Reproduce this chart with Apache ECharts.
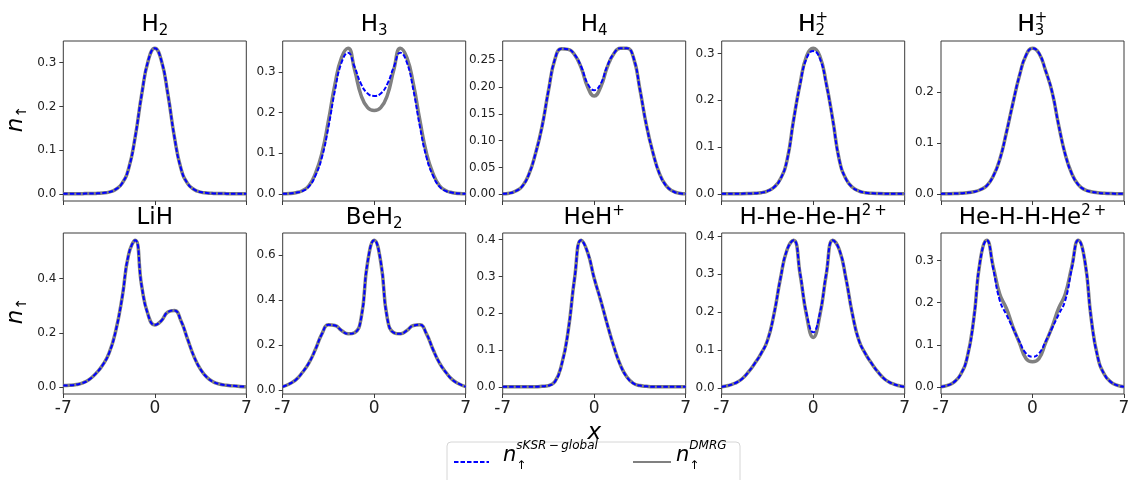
<!DOCTYPE html>
<html>
<head>
<meta charset="utf-8">
<script src="https://cdn.jsdelivr.net/npm/echarts@6/dist/echarts.min.js"></script>
<style>
  html, body { margin: 0; padding: 0; background: #fff; }
  #chart { width: 1129px; height: 480px; }
</style>
</head>
<body>
<div id="chart"></div>
<script>
// shared x grid (read every 0.5 along the axis)
const xs = [-7, -6.5, -6, -5.5, -5, -4.5, -4, -3.5, -3, -2.5, -2, -1.5, -1, -0.5, 0,
  0.5, 1, 1.5, 2, 2.5, 3, 3.5, 4, 4.5, 5, 5.5, 6, 6.5, 7];
const xTickValues = [-7, 0, 7];
const xTickLabels = ['-7', '0', '7'];

// densities, one array per curve
const h2Dmrg = [0.0002, 0.0002, 0.0003, 0.0004, 0.0006, 0.001, 0.002, 0.004, 0.010, 0.024, 0.058, 0.130, 0.228, 0.305, 0.333,
  0.305, 0.228, 0.130, 0.058, 0.024, 0.010, 0.004, 0.002, 0.001, 0.0006, 0.0004, 0.0003, 0.0002, 0.0002];
const h2Sksr = h2Dmrg;

const h3Dmrg = [0.0005, 0.001, 0.003, 0.008, 0.02, 0.05, 0.10, 0.18, 0.27, 0.335, 0.358, 0.305, 0.242, 0.212, 0.205,
  0.212, 0.242, 0.305, 0.358, 0.335, 0.27, 0.18, 0.10, 0.05, 0.02, 0.008, 0.003, 0.001, 0.0005];
const h3Sksr = [0.0005, 0.001, 0.003, 0.007, 0.018, 0.045, 0.09, 0.165, 0.255, 0.323, 0.347, 0.312, 0.27, 0.247, 0.241,
  0.247, 0.27, 0.312, 0.347, 0.323, 0.255, 0.165, 0.09, 0.045, 0.018, 0.007, 0.003, 0.001, 0.0005];

const h4Dmrg = [0.001, 0.002, 0.006, 0.015, 0.037, 0.075, 0.125, 0.193, 0.252, 0.271, 0.27, 0.26, 0.236, 0.2, 0.183,
  0.2, 0.237, 0.262, 0.272, 0.272, 0.255, 0.195, 0.128, 0.077, 0.038, 0.016, 0.006, 0.002, 0.001];
const h4Sksr = [0.001, 0.002, 0.006, 0.015, 0.037, 0.075, 0.125, 0.193, 0.252, 0.271, 0.27, 0.26, 0.238, 0.206, 0.194,
  0.206, 0.239, 0.262, 0.272, 0.272, 0.255, 0.195, 0.128, 0.077, 0.038, 0.016, 0.006, 0.002, 0.001];

const h2pDmrg = [0.0002, 0.0002, 0.0003, 0.0004, 0.0007, 0.0012, 0.0025, 0.006, 0.014, 0.032, 0.072, 0.158, 0.236, 0.295, 0.311,
  0.295, 0.236, 0.158, 0.072, 0.032, 0.014, 0.006, 0.0025, 0.0012, 0.0007, 0.0004, 0.0003, 0.0002, 0.0002];
const h2pSksr = [0.0002, 0.0002, 0.0003, 0.0004, 0.0007, 0.0012, 0.0025, 0.006, 0.014, 0.032, 0.072, 0.157, 0.234, 0.29, 0.305,
  0.29, 0.234, 0.157, 0.072, 0.032, 0.014, 0.006, 0.0025, 0.0012, 0.0007, 0.0004, 0.0003, 0.0002, 0.0002];

const h3pDmrg = [0.0002, 0.0003, 0.0005, 0.001, 0.002, 0.004, 0.008, 0.016, 0.035, 0.068, 0.12, 0.178, 0.232, 0.272, 0.286,
  0.276, 0.242, 0.2, 0.135, 0.078, 0.04, 0.018, 0.008, 0.004, 0.002, 0.001, 0.0005, 0.0003, 0.0002];
const h3pSksr = h3pDmrg;

const lihDmrg = [0.005, 0.006, 0.009, 0.015, 0.028, 0.05, 0.08, 0.125, 0.205, 0.33, 0.49, 0.542, 0.372, 0.265, 0.229,
  0.245, 0.277, 0.283, 0.245, 0.178, 0.112, 0.065, 0.035, 0.018, 0.01, 0.006, 0.004, 0.002, 0.001];
const lihSksr = lihDmrg;

const beh2Dmrg = [0.015, 0.027, 0.045, 0.078, 0.12, 0.18, 0.25, 0.29, 0.287, 0.265, 0.25, 0.255, 0.32, 0.57, 0.666,
  0.57, 0.32, 0.255, 0.25, 0.265, 0.287, 0.29, 0.25, 0.18, 0.12, 0.078, 0.045, 0.027, 0.015];
const beh2Sksr = beh2Dmrg;

const hehpDmrg = [0.001, 0.001, 0.001, 0.001, 0.001, 0.001, 0.002, 0.004, 0.015, 0.06, 0.15, 0.295, 0.398, 0.365, 0.295,
  0.235, 0.17, 0.11, 0.06, 0.027, 0.01, 0.004, 0.002, 0.001, 0.001, 0.001, 0.001, 0.001, 0.001];
const hehpSksr = hehpDmrg;

const hhehehDmrg = [0.003, 0.006, 0.012, 0.022, 0.04, 0.063, 0.09, 0.125, 0.195, 0.29, 0.365, 0.39, 0.3, 0.19, 0.133,
  0.19, 0.3, 0.39, 0.365, 0.29, 0.195, 0.125, 0.09, 0.063, 0.04, 0.022, 0.012, 0.006, 0.003];
const hhehehSksr = [0.003, 0.006, 0.012, 0.022, 0.04, 0.063, 0.09, 0.125, 0.195, 0.29, 0.365, 0.39, 0.302, 0.195, 0.147,
  0.195, 0.302, 0.39, 0.365, 0.29, 0.195, 0.125, 0.09, 0.063, 0.04, 0.022, 0.012, 0.006, 0.003];

const hehhheDmrg = [0.001, 0.004, 0.012, 0.03, 0.07, 0.16, 0.3, 0.348, 0.285, 0.22, 0.187, 0.143, 0.105, 0.068, 0.06,
  0.068, 0.105, 0.143, 0.187, 0.22, 0.285, 0.348, 0.3, 0.16, 0.07, 0.03, 0.012, 0.004, 0.001];
const hehhheSksr = [0.001, 0.004, 0.012, 0.03, 0.07, 0.16, 0.3, 0.348, 0.28, 0.205, 0.172, 0.14, 0.108, 0.08, 0.072,
  0.08, 0.108, 0.14, 0.172, 0.205, 0.28, 0.348, 0.3, 0.16, 0.07, 0.03, 0.012, 0.004, 0.001];

// panel titles: main text, subscript, superscript
const titleMain = ['H', 'H', 'H', 'H', 'H', 'LiH', 'BeH', 'HeH', 'H-He-He-H', 'He-H-H-He'];
const titleSub = ['2', '3', '4', '2', '3', '', '2', '', '', ''];
const titleSup = ['', '', '', '+', '+', '', '', '+', '2\u2009+', '2\u2009+'];
const yTickLabels = [
  ['0.0', '0.1', '0.2', '0.3'],
  ['0.0', '0.1', '0.2', '0.3'],
  ['0.00', '0.05', '0.10', '0.15', '0.20', '0.25'],
  ['0.0', '0.1', '0.2', '0.3'],
  ['0.0', '0.1', '0.2'],
  ['0.0', '0.2', '0.4'],
  ['0.0', '0.2', '0.4', '0.6'],
  ['0.0', '0.1', '0.2', '0.3', '0.4'],
  ['0.0', '0.1', '0.2', '0.3', '0.4'],
  ['0.0', '0.1', '0.2', '0.3']
];
const dmrgCurves = [h2Dmrg, h3Dmrg, h4Dmrg, h2pDmrg, h3pDmrg, lihDmrg, beh2Dmrg, hehpDmrg, hhehehDmrg, hehhheDmrg];
const sksrCurves = [h2Sksr, h3Sksr, h4Sksr, h2pSksr, h3pSksr, lihSksr, beh2Sksr, hehpSksr, hhehehSksr, hehhheSksr];

const FONT = 'DejaVu Sans';
const lefts = [63.3, 282.7, 502.7, 721.7, 941];
const tops = [41, 233];
const heights = [160, 161];
const W = 183;

const titleRich = {
  m: { fontSize: 23, lineHeight: 28, fontFamily: FONT, color: '#000' },
  mh: { fontSize: 23, lineHeight: 28, fontFamily: FONT, color: 'rgba(0,0,0,0)' },
  sub: { fontSize: 15, fontFamily: FONT, color: '#000', verticalAlign: 'bottom' },
  sup: { fontSize: 15, fontFamily: FONT, color: '#000', verticalAlign: 'top' }
};

const grids = [], xAxes = [], yAxes = [], series = [], graphics = [];

dmrgCurves.forEach((dmrg, i) => {
  const sksr = sksrCurves[i];
  const row = Math.floor(i / 5), col = i % 5;
  const all = dmrg.concat(sksr);
  const lo = Math.min(...all), hi = Math.max(...all);
  const pad = (hi - lo) * 0.05;
  const labels = yTickLabels[i];
  const vals = labels.map(Number);

  grids.push({
    left: lefts[col], top: tops[row], width: W, height: heights[row],
    show: true, borderColor: '#3a3a3a', borderWidth: 1, backgroundColor: '#fff',
    containLabel: false, outerBoundsMode: 'none'
  });

  xAxes.push({
    type: 'value', gridIndex: i, min: -7, max: 7, position: 'bottom',
    axisLine: { show: false, onZero: false }, splitLine: { show: false },
    axisTick: { show: true, length: 4, customValues: xTickValues, lineStyle: { color: '#3a3a3a' } },
    axisLabel: {
      show: row === 1, customValues: xTickValues, margin: 6,
      formatter: v => xTickLabels[xTickValues.indexOf(v)],
      fontSize: 17, fontFamily: FONT, color: '#222'
    },
    name: i === 7 ? 'x' : '', nameLocation: 'middle', nameGap: 28,
    nameTextStyle: { fontSize: 23, fontStyle: 'italic', fontFamily: FONT, color: '#000' }
  });

  yAxes.push({
    type: 'value', gridIndex: i, min: lo - pad, max: hi + pad, position: 'left',
    axisLine: { show: false, onZero: false }, splitLine: { show: false },
    axisTick: { show: true, length: 4, customValues: vals, lineStyle: { color: '#3a3a3a' } },
    axisLabel: {
      customValues: vals, margin: 7,
      formatter: v => labels[vals.findIndex(t => Math.abs(t - v) < 1e-9)],
      fontSize: 12, fontFamily: FONT, color: '#222'
    }
  });

  series.push({
    name: 'DMRG', type: 'line', xAxisIndex: i, yAxisIndex: i,
    data: xs.map((x, k) => [x, dmrg[k]]),
    smooth: true, symbol: 'none', silent: true,
    lineStyle: { color: '#808080', width: 3.5 }, itemStyle: { color: '#808080' }
  });
  series.push({
    name: 'sKSR', type: 'line', xAxisIndex: i, yAxisIndex: i,
    data: xs.map((x, k) => [x, sksr[k]]),
    smooth: true, symbol: 'none', silent: true,
    lineStyle: { color: '#0000ff', width: 2, type: [4.5, 2] }, itemStyle: { color: '#0000ff' }
  });

  // titles; stacked sub+superscript drawn as two overlaid texts
  const cx = lefts[col] + W / 2, ty = row === 0 ? 11 : 204;
  const main = titleMain[i], sub = titleSub[i], sup = titleSup[i];
  if (sub && sup) {
    const x0 = cx - 15;
    graphics.push({ type: 'text', x: x0, y: ty,
      style: { text: `{m|${main}}{sub|${sub}}`, rich: titleRich, align: 'left', verticalAlign: 'top' } });
    graphics.push({ type: 'text', x: x0, y: ty,
      style: { text: `{mh|${main}}{sup|${sup}}`, rich: titleRich, align: 'left', verticalAlign: 'top' } });
  } else {
    let t = `{m|${main}}`;
    if (sub) t += `{sub|${sub}}`;
    if (sup) t += `{sup|${sup}}`;
    graphics.push({ type: 'text', x: cx, y: ty,
      style: { text: t, rich: titleRich, align: 'center', verticalAlign: 'top' } });
  }
});

// y axis labels n_up, rotated
[119, 311].forEach(cy => {
  graphics.push({
    type: 'text', x: 16, y: cy, rotation: Math.PI / 2,
    style: {
      text: '{n|n}{a|\u2191}', align: 'center', verticalAlign: 'middle',
      rich: {
        n: { fontSize: 23, fontStyle: 'italic', fontFamily: FONT, color: '#000', lineHeight: 26 },
        a: { fontSize: 14, fontFamily: FONT, color: '#000', verticalAlign: 'bottom' }
      }
    }
  });
});

// legend frame
graphics.push({
  type: 'rect', z: 1,
  shape: { x: 447, y: 442, width: 293, height: 50, r: 4 },
  style: { fill: '#fff', stroke: '#d6d6d6', lineWidth: 1 }
});

const legendRich = {
  n: { fontSize: 21, fontStyle: 'italic', fontFamily: FONT, color: '#000', lineHeight: 32 },
  a: { fontSize: 12, fontFamily: FONT, color: '#000', verticalAlign: 'bottom', width: 0, align: 'left' },
  s: { fontSize: 12, fontStyle: 'italic', fontFamily: FONT, color: '#000', verticalAlign: 'top' }
};

const option = {
  animation: false,
  backgroundColor: '#fff',
  grid: grids,
  xAxis: xAxes,
  yAxis: yAxes,
  series: series,
  graphic: { elements: graphics },
  legend: [
    {
      data: ['sKSR'], left: 453, top: 440, padding: 0, selectedMode: false,
      itemWidth: 35, itemHeight: 14, z: 5,
      itemStyle: { opacity: 0, borderWidth: 0 },
      formatter: () => '{n|n}{a|\u2191}{s|sKSR\u2009\u2212\u2009global}',
      textStyle: { rich: legendRich, padding: [0, 0, 12, 9] }
    },
    {
      data: ['DMRG'], left: 632, top: 440, padding: 0, selectedMode: false,
      itemWidth: 38, itemHeight: 14, z: 5,
      itemStyle: { opacity: 0, borderWidth: 0 },
      formatter: () => '{n|n}{a|\u2191}{s|DMRG}',
      textStyle: { rich: legendRich, padding: [0, 0, 12, 0] }
    }
  ]
};

const chart = echarts.init(document.getElementById('chart'), null, { renderer: 'canvas' });
chart.setOption(option);
</script>
</body>
</html>
